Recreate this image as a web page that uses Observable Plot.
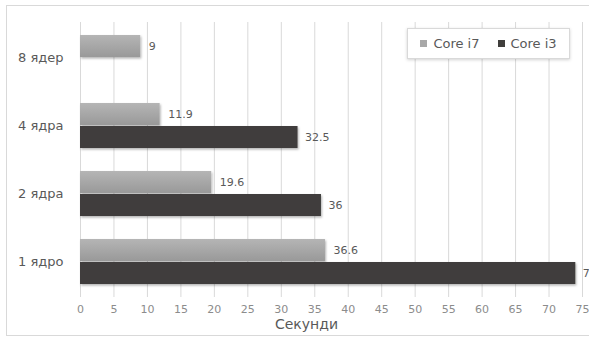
<!DOCTYPE html>
<html>
<head>
<meta charset="utf-8">
<script src="https://cdn.jsdelivr.net/npm/d3@7"></script>
<script src="https://cdn.jsdelivr.net/npm/@observablehq/plot@0.6"></script>
<style>
  html, body { margin: 0; padding: 0; background: #fff; }
  #wrap { position: relative; width: 589px; height: 337px; overflow: hidden; font-family: "DejaVu Sans", sans-serif; }
  #frame { position: absolute; left: 6px; top: 5px; width: 700px; height: 329px; border: 1px solid #d9d9d9; pointer-events: none; }
  #legend { position: absolute; left: 407px; top: 28px; width: 161px; height: 29px; background: #fff; border: 1px solid #d9d9d9; box-shadow: 0 1px 3px rgba(0,0,0,0.18); display: flex; align-items: center; justify-content: center; gap: 18px; font-size: 13px; color: #595959; }
  #legend .item { display: flex; align-items: center; gap: 6px; }
  #legend .sw { width: 7px; height: 7px; display: inline-block; }
</style>
</head>
<body>
<div id="wrap"></div>
<script>
// ---- data ----
const categories = ["8 ядер", "4 ядра", "2 ядра", "1 ядро"];
const seriesNames = ["Core i7", "Core i3"];
const coreI7 = [9, 11.9, 19.6, 36.6];
const coreI3 = [null, 32.5, 36, 74];
const xTicks = [0, 5, 10, 15, 20, 25, 30, 35, 40, 45, 50, 55, 60, 65, 70, 75];
const axisTitle = "Секунди";
const seriesColors = ["#a8a8a8", "#403e3c"];

const rowsI7 = categories.map((c, i) => ({category: c, value: coreI7[i]}));
const rowsI3 = categories.map((c, i) => ({category: c, value: coreI3[i]})).filter(d => d.value != null);

const half = 23; // half of the band: each series takes one half

const plot = Plot.plot({
  width: 589,
  height: 337,
  marginTop: 22,
  marginBottom: 40,
  marginLeft: 80,
  marginRight: 7,
  style: {fontFamily: "DejaVu Sans, sans-serif", fontSize: "11px", background: "transparent", overflow: "visible"},
  x: {domain: [0, 75], ticks: xTicks},
  y: {domain: categories, paddingInner: 0.334, paddingOuter: 0.164},
  marks: [
    Plot.gridX(xTicks, {stroke: "#d9d9d9", strokeOpacity: 1, strokeWidth: 1}),
    Plot.barX(rowsI7, {x: "value", y: "category", fill: "url(#gradI7)", insetBottom: half}),
    Plot.barX(rowsI3, {x: "value", y: "category", fill: seriesColors[1], insetTop: half}),
    Plot.text(rowsI7, {x: "value", y: "category", text: d => String(d.value), textAnchor: "start", dx: 8, dy: -half / 2, fill: "#595959", fontSize: 11}),
    Plot.text(rowsI3, {x: "value", y: "category", text: d => String(d.value), textAnchor: "start", dx: 7, dy: half / 2, fill: "#595959", fontSize: 11}),
    Plot.axisX(xTicks, {tickSize: 0, tickPadding: 8, fill: "#8c8c8c", fontSize: 11, label: null}),
    Plot.axisY({tickSize: 0, tickPadding: 17, fill: "#595959", fontSize: 13, label: null}),
    Plot.text([axisTitle], {frameAnchor: "bottom", text: d => d, dy: 31, dx: -25, fill: "#595959", fontSize: 14})
  ]
});

// gradient + shadow defs
const svg = d3.select(plot);
const defs = svg.insert("defs", ":first-child");
const g = defs.append("linearGradient").attr("id", "gradI7").attr("x1", 0).attr("y1", 0).attr("x2", 0).attr("y2", 1);
g.append("stop").attr("offset", "0%").attr("stop-color", "#b5b5b5");
g.append("stop").attr("offset", "100%").attr("stop-color", "#999999");
const f = defs.append("filter").attr("id", "shadow").attr("x", "-5%").attr("y", "-20%").attr("width", "110%").attr("height", "150%");
f.append("feDropShadow").attr("dx", 1).attr("dy", 1.5).attr("stdDeviation", 1.2).attr("flood-color", "#000").attr("flood-opacity", 0.3);
svg.selectAll("g[aria-label='bar'] rect").style("filter", "url(#shadow)");

const wrap = document.getElementById("wrap");
wrap.appendChild(plot);

const frame = document.createElement("div");
frame.id = "frame";
wrap.appendChild(frame);

const legend = document.createElement("div");
legend.id = "legend";
seriesNames.forEach((name, i) => {
  const item = document.createElement("div");
  item.className = "item";
  const sw = document.createElement("span");
  sw.className = "sw";
  sw.style.background = seriesColors[i];
  const tx = document.createElement("span");
  tx.textContent = name;
  item.appendChild(sw);
  item.appendChild(tx);
  legend.appendChild(item);
});
wrap.appendChild(legend);
plot.style.position = "absolute";
plot.style.left = "0px";
plot.style.top = "0px";
</script>
</body>
</html>
